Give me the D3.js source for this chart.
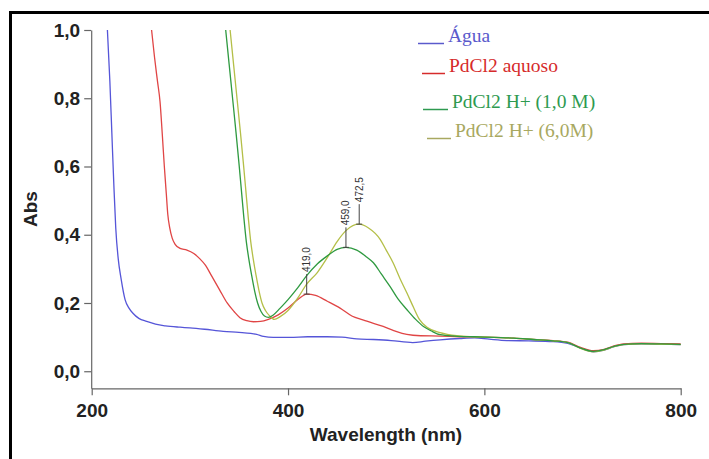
<!DOCTYPE html>
<html><head><meta charset="utf-8">
<script src="https://cdn.jsdelivr.net/npm/d3@7"></script>
<style>html,body{margin:0;padding:0;background:#fff;}svg{display:block;}</style>
</head><body><svg id="c" width="709" height="459"></svg>
<script>
// ---- data ----
const aguaWl  = [216,218.5,220.5,222.5,224.5,227,230,234,238,242,248,256,265,275,290,300,315,334,350,362,368,375,385,402,420,440,455,470,487,505,527,540,555,575,590,605,623,645,670,685,698,711,722,732,742,760,780,800];
const aguaAbs = [1.0,0.85,0.70,0.55,0.42,0.33,0.27,0.21,0.185,0.17,0.155,0.146,0.138,0.133,0.129,0.127,0.123,0.117,0.114,0.111,0.108,0.102,0.099,0.099,0.101,0.101,0.100,0.095,0.093,0.090,0.084,0.088,0.092,0.096,0.098,0.094,0.090,0.089,0.087,0.082,0.068,0.057,0.062,0.072,0.078,0.080,0.079,0.078];

const aquosoWl  = [261,264,267,269.6,272,274,276,277.5,279.5,282,285,290,297,304,310,316,322,330,338,345,351,358,365,372,380,390,400,410,419,428,440,453,465,477,487,500,510,521,535,555,575,600,623,645,670,685,698,711,722,732,742,760,780,800];
const aquosoAbs = [1.0,0.92,0.85,0.79,0.69,0.60,0.52,0.46,0.42,0.39,0.372,0.36,0.355,0.345,0.33,0.31,0.28,0.24,0.20,0.175,0.157,0.148,0.145,0.146,0.152,0.165,0.185,0.210,0.226,0.222,0.205,0.185,0.162,0.150,0.140,0.128,0.117,0.108,0.104,0.103,0.101,0.100,0.098,0.094,0.090,0.085,0.070,0.060,0.064,0.074,0.080,0.082,0.081,0.080];

const h1Wl  = [336.5,340,343.5,347,350,352.5,355,357.5,360,363,366,369,372.5,376,380,385,392,400,410,419,430,440,450,459,470,480,487,495,504,512,521,530,538,546,555,570,590,610,630,650,670,685,698,711,722,732,742,760,780,800];
const h1Abs = [1.0,0.90,0.80,0.70,0.61,0.53,0.45,0.38,0.33,0.28,0.235,0.20,0.175,0.162,0.158,0.165,0.185,0.21,0.245,0.28,0.315,0.338,0.357,0.363,0.355,0.335,0.318,0.285,0.248,0.212,0.181,0.152,0.131,0.118,0.107,0.103,0.101,0.099,0.097,0.093,0.089,0.084,0.068,0.058,0.063,0.073,0.079,0.081,0.080,0.079];

const h6Wl  = [341,344.5,348,351.5,354.5,357,359.5,362,364.5,367.5,370.5,373.5,377,381,386,392,400,410,419,430,440,450,459,466,472.5,482,494,500,507,514,521,528,534,542,555,572,590,610,630,650,670,685,698,711,722,732,742,760,780,800];
const h6Abs = [1.0,0.90,0.80,0.70,0.61,0.53,0.45,0.38,0.33,0.28,0.235,0.20,0.178,0.163,0.152,0.16,0.178,0.215,0.255,0.29,0.333,0.38,0.412,0.427,0.431,0.42,0.386,0.355,0.318,0.272,0.23,0.186,0.151,0.128,0.113,0.104,0.101,0.099,0.097,0.093,0.089,0.084,0.067,0.057,0.062,0.072,0.078,0.080,0.079,0.078];

const seriesNames  = ["Água","PdCl2 aquoso","PdCl2 H+ (1,0 M)","PdCl2 H+ (6,0M)"];
const seriesColors = ["#5555d8","#e04545","#2f9a40","#b4bf48"];
const legendColors = ["#5a5acc","#d62b2b","#2e9a50","#a8a860"];

const peakLabels = ["419,0","459,0","472,5"];
const peakWl     = [419, 459, 472.5];
const peakAbs    = [0.226, 0.363, 0.431];

const xTicks = [200,400,600,800];
const yTicks = [0,0.2,0.4,0.6,0.8,1.0];

// ---- drawing ----
const svg = d3.select("#c");
svg.append("rect").attr("x",10.5).attr("y",12.5).attr("width",800).attr("height",600)
  .attr("fill","#fff").attr("stroke","#000").attr("stroke-width",3);

const x = d3.scaleLinear().domain([200,800]).range([91.7,680.7]);
const y = d3.scaleLinear().domain([-0.05,1.0]).range([388.3,30]);

const xAxis = d3.axisBottom(x).tickValues(xTicks).tickSize(7).tickSizeOuter(0).tickPadding(8).tickFormat(d3.format("d"));
const yAxis = d3.axisLeft(y).tickValues(yTicks).tickSize(7).tickSizeOuter(0).tickPadding(4)
  .tickFormat(d => d.toFixed(1).replace(".", ","));

const gx = svg.append("g").attr("transform","translate(0,388.3)").call(xAxis);
const gy = svg.append("g").attr("transform","translate(91.2,0)").call(yAxis);
[gx,gy].forEach(g => {
  g.selectAll("path,line").attr("stroke","#666").attr("stroke-width",1.2);
  g.selectAll("text").attr("fill","#222").style("font-family","'Liberation Sans', Arial, sans-serif")
    .style("font-weight","bold").style("font-size","19px");
});

svg.append("text").attr("x",386).attr("y",441).attr("text-anchor","middle")
  .style("font-family","'Liberation Sans', Arial, sans-serif").style("font-weight","bold")
  .style("font-size","19px").attr("fill","#222").text("Wavelength (nm)");
svg.append("text").attr("transform","translate(37,209) rotate(-90)").attr("text-anchor","middle")
  .style("font-family","'Liberation Sans', Arial, sans-serif").style("font-weight","bold")
  .style("font-size","19px").attr("fill","#222").text("Abs");

const series = [[aguaWl,aguaAbs],[aquosoWl,aquosoAbs],[h1Wl,h1Abs],[h6Wl,h6Abs]];
const line = d3.line().x(d=>x(d[0])).y(d=>y(d[1])).curve(d3.curveMonotoneX);
// draw order: water, aquoso, 6M, 1M
[0,1,3,2].forEach(i => {
  const pts = series[i][0].map((w,k)=>[w, series[i][1][k]]);
  svg.append("path").datum(pts).attr("d", line)
    .attr("fill","none").attr("stroke",seriesColors[i]).attr("stroke-width",1.3);
});

// peak annotations
peakWl.forEach((w,i) => {
  const px = x(w), py = y(peakAbs[i]);
  const top = py - 20;
  svg.append("line").attr("x1",px).attr("x2",px).attr("y1",py).attr("y2",top)
    .attr("stroke","#444").attr("stroke-width",1);
  svg.append("line").attr("x1",px-3).attr("x2",px+3).attr("y1",py).attr("y2",py)
    .attr("stroke","#444").attr("stroke-width",1);
  svg.append("text").attr("transform",`translate(${px+3.5},${top-2}) rotate(-90)`)
    .style("font-family","'Liberation Sans', Arial, sans-serif").style("font-size","10px")
    .attr("fill","#333").text(peakLabels[i]);
});

// legend
const legX  = [418,422,423,427];
const legTX = [448,449,452,455];
const legY  = [42,72,108,137];
seriesNames.forEach((n,i) => {
  svg.append("line").attr("x1",legX[i]).attr("x2",legTX[i]-4).attr("y1",legY[i]+1.5).attr("y2",legY[i]+1.5)
    .attr("stroke",legendColors[i]).attr("stroke-width",1.5);
  svg.append("text").attr("x",legTX[i]).attr("y",legY[i])
    .style("font-family","'Liberation Serif', 'Times New Roman', serif").style("font-size","19.5px")
    .attr("fill",legendColors[i]).text(n);
});
</script></body></html>
